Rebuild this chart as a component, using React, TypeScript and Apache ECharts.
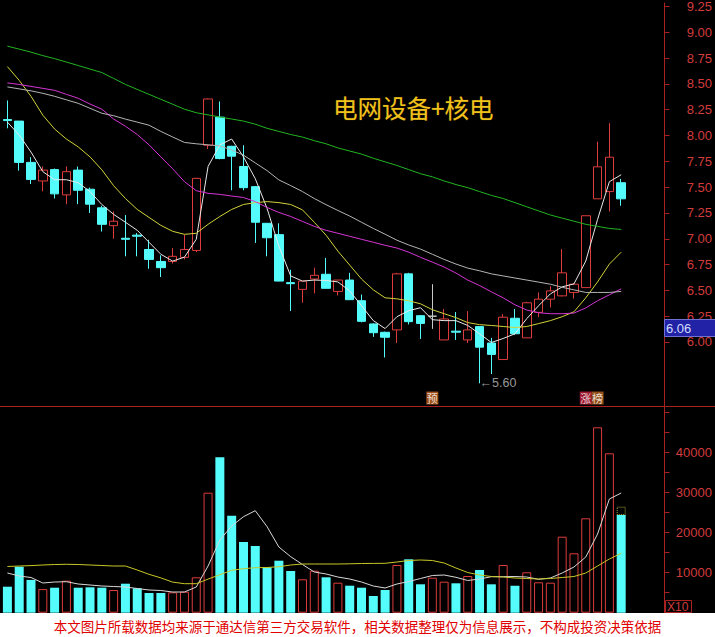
import React, { useEffect, useRef } from "react";
import * as echarts from "echarts";

// ---- data ----
const opens = [8.155, 8.14, 7.74, 7.56, 7.67, 7.425, 7.665, 7.48, 7.3, 7.127, 7.005, 7.035, 6.896, 6.78, 6.78, 6.82, 6.887, 7.906, 8.178, 7.896, 7.7, 7.505, 7.15, 7.04, 6.575, 6.51, 6.61, 6.656, 6.49, 6.6, 6.4, 6.175, 6.094, 6.117, 6.66, 6.255, 6.25, 6.02, 6.105, 6.02, 6.149, 5.99, 5.83, 6.23, 6.04, 6.287, 6.415, 6.447, 6.48, 6.527, 7.387, 7.457, 7.543];
const closes = [8.145, 7.74, 7.575, 7.665, 7.435, 7.65, 7.47, 7.335, 7.14, 7.17, 6.995, 7.025, 6.8, 6.72, 6.83, 6.896, 7.585, 8.354, 7.777, 7.8, 7.495, 7.16, 7.01, 6.59, 6.565, 6.59, 6.646, 6.52, 6.6, 6.41, 6.2, 6.09, 6.046, 6.66, 6.197, 6.18, 6.25, 6.223, 6.095, 6.117, 5.95, 5.88, 6.24, 6.08, 6.38, 6.415, 6.495, 6.67, 6.56, 7.223, 7.697, 7.79, 7.387];
const lows = [8.07, 7.66, 7.53, 7.46, 7.39, 7.335, 7.335, 7.25, 7.07, 7.0, 6.83, 6.83, 6.71, 6.63, 6.76, 6.8, 6.87, 7.87, 7.77, 7.47, 7.47, 6.96, 6.83, 6.59, 6.3, 6.38, 6.47, 6.52, 6.45, 6.41, 6.19, 6.05, 5.85, 5.99, 6.17, 6.03, 6.127, 6.02, 6.02, 5.99, 5.6, 5.69, 5.83, 6.07, 6.04, 6.24, 6.335, 6.44, 6.42, 6.527, 7.387, 7.265, 7.32];
const highs = [8.34, 8.14, 7.79, 7.7, 7.68, 7.7, 7.7, 7.495, 7.32, 7.265, 7.23, 7.056, 6.99, 6.84, 6.91, 7.04, 7.59, 8.36, 8.33, 7.9, 7.906, 7.51, 7.15, 7.15, 6.7, 6.59, 6.72, 6.815, 6.6, 6.67, 6.46, 6.18, 6.1, 6.67, 6.67, 6.26, 6.56, 6.32, 6.29, 6.3, 6.15, 6.04, 6.27, 6.32, 6.39, 6.48, 6.54, 6.9, 6.57, 7.223, 7.94, 8.12, 7.58];

const ma5 = [8.13, 8.005, 7.84, 7.65, 7.572, 7.572, 7.543, 7.457, 7.332, 7.236, 7.16, 7.082, 6.966, 6.85, 6.784, 6.822, 6.995, 7.7, 7.91, 7.966, 7.793, 7.582, 7.293, 6.928, 6.64, 6.59, 6.6, 6.596, 6.582, 6.495, 6.351, 6.207, 6.13, 6.245, 6.303, 6.332, 6.216, 6.207, 6.207, 6.16, 6.08, 5.995, 6.034, 6.08, 6.226, 6.351, 6.466, 6.534, 6.563, 6.784, 7.188, 7.553, 7.62];
const ma10 = [8.668, 8.534, 8.38, 8.197, 8.063, 7.966, 7.89, 7.793, 7.668, 7.514, 7.39, 7.284, 7.207, 7.13, 7.072, 7.043, 7.053, 7.14, 7.216, 7.284, 7.332, 7.35, 7.36, 7.35, 7.332, 7.28, 7.16, 7.034, 6.88, 6.745, 6.61, 6.505, 6.428, 6.418, 6.399, 6.37, 6.313, 6.274, 6.236, 6.188, 6.168, 6.16, 6.15, 6.14, 6.15, 6.178, 6.207, 6.245, 6.293, 6.428, 6.582, 6.755, 6.87];
const ma20 = [8.51, 8.495, 8.476, 8.457, 8.438, 8.399, 8.361, 8.305, 8.255, 8.16, 8.09, 8.01, 7.91, 7.793, 7.678, 7.553, 7.466, 7.44, 7.43, 7.414, 7.4, 7.36, 7.303, 7.255, 7.216, 7.168, 7.12, 7.082, 7.053, 7.024, 6.995, 6.966, 6.937, 6.91, 6.87, 6.82, 6.774, 6.726, 6.668, 6.6, 6.547, 6.486, 6.428, 6.36, 6.31, 6.284, 6.274, 6.274, 6.28, 6.33, 6.4, 6.457, 6.515];
const ma30 = [8.471, 8.452, 8.433, 8.409, 8.38, 8.346, 8.312, 8.264, 8.216, 8.192, 8.159, 8.13, 8.1, 8.04, 7.986, 7.933, 7.92, 7.91, 7.9, 7.86, 7.81, 7.735, 7.66, 7.57, 7.515, 7.457, 7.39, 7.33, 7.274, 7.22, 7.16, 7.1, 7.044, 6.986, 6.94, 6.9, 6.85, 6.8, 6.755, 6.716, 6.69, 6.66, 6.64, 6.62, 6.6, 6.58, 6.56, 6.53, 6.505, 6.48, 6.48, 6.48, 6.49];
const ma60 = [8.866, 8.837, 8.808, 8.774, 8.745, 8.712, 8.678, 8.644, 8.61, 8.553, 8.495, 8.447, 8.399, 8.351, 8.303, 8.255, 8.221, 8.2, 8.18, 8.16, 8.14, 8.11, 8.07, 8.04, 8.01, 7.985, 7.95, 7.92, 7.88, 7.85, 7.82, 7.78, 7.745, 7.71, 7.67, 7.63, 7.6, 7.56, 7.525, 7.495, 7.457, 7.42, 7.39, 7.35, 7.31, 7.27, 7.23, 7.2, 7.17, 7.14, 7.12, 7.1, 7.09];

const volumes = [6500, 11500, 8200, 5900, 6250, 8000, 6250, 6350, 6250, 5675, 7250, 6100, 4925, 4925, 5100, 5250, 8850, 30000, 38850, 24250, 17675, 16675, 11350, 13000, 10425, 8350, 10500, 8850, 7500, 6750, 6250, 4175, 5675, 11925, 13350, 7100, 8750, 7750, 7350, 9175, 10675, 7100, 11925, 6750, 10100, 7600, 7500, 19000, 14850, 23600, 46350, 39850, 24425];
const volMa5 = [9925, 9175, 8800, 7425, 7675, 7750, 7175, 6925, 6675, 6550, 6425, 6050, 5675, 5550, 5175, 5175, 6425, 11675, 18175, 21675, 24000, 25500, 21500, 16425, 14000, 12050, 10175, 9675, 8925, 8425, 7675, 6675, 6175, 7175, 7800, 8550, 9300, 9425, 8850, 8050, 8425, 9000, 9000, 9050, 8925, 8350, 8675, 9925, 11425, 13925, 19675, 28425, 29925];
const volMa10 = [11550, 11675, 11775, 11925, 12050, 12100, 12050, 11925, 11800, 11675, 11675, 10675, 9600, 8700, 7650, 7250, 7250, 8400, 9500, 10600, 11000, 11250, 11300, 11500, 11925, 12175, 12175, 12175, 12175, 12225, 12300, 12325, 12350, 12675, 13050, 13175, 13050, 12425, 11175, 10050, 9425, 9050, 8925, 8675, 8550, 8425, 8550, 8800, 9050, 9925, 11675, 13425, 14850];
const forecastVolume = 26500; // dotted estimate on the last day

const priceTicks = [6.0, 6.25, 6.5, 6.75, 7.0, 7.25, 7.5, 7.75, 8.0, 8.25, 8.5, 8.75, 9.0, 9.25];
const volumeLabels = [10000, 20000, 30000, 40000];
const volumeTicks = [5000, 10000, 15000, 20000, 25000, 30000, 35000, 40000, 45000, 50000];

const markerDays = [36, 49, 50];
const markerTexts = ["预", "涨", "榜"];
const lowDay = 40;
const lowValue = 5.6;
const title = "电网设备+核电";
const footer = "本文图片所载数据均来源于通达信第三方交易软件，相关数据整理仅为信息展示，不构成投资决策依据";
const slotCount = 56;
const categories = Array.from({ length: slotCount }, (_, i) => `D${i + 1}`);

// ---- styles ----
const RED = "#dc3c3c";
const CYAN = "#54fcfc";
const AXIS = "#a82222";
const LABEL = "#d23c3c";
const markerColors = ["#c8641e", "#c41e3a", "#b8641e"];

export default function App() {
  const ref = useRef<HTMLDivElement>(null);
  useEffect(() => {
    if (!ref.current) return;
    const chart = echarts.init(ref.current, null, { renderer: "svg" });

    const candles = opens.map((o, i) => {
      const item: any = { value: [o, closes[i], lows[i], highs[i]] };
      if (o === closes[i]) {
        item.itemStyle = { color: "#c8c8c8", color0: "#c8c8c8", borderColor: "#c8c8c8", borderColor0: "#c8c8c8", borderColorDoji: "#c8c8c8" };
      }
      return item;
    });
    const volBars = volumes.map((v, i) => {
      const up = closes[i] >= opens[i];
      return {
        value: v,
        itemStyle: up
          ? { color: "#000", borderColor: RED, borderWidth: 1 }
          : { color: CYAN, borderColor: CYAN, borderWidth: 0 },
      };
    });
    const last = volumes.length - 1;
    const forecast = volumes.map((v, i) => (i === last ? forecastVolume - v : null));

    const priceMin = 5.38;
    const priceMax = 9.284;
    const lowNoteLevel = priceMax - 398 / 104; // marker row at bottom of price panel

    const line = (name: string, data: number[], color: string, x = 0) => ({
      name,
      type: "line",
      xAxisIndex: x,
      yAxisIndex: x,
      data,
      symbol: "none",
      smooth: false,
      lineStyle: { color, width: 1 },
      z: 3,
    });

    const option: any = {
      animation: false,
      backgroundColor: "#000",
      grid: [
        { left: 1.5, right: 52.5, top: 0, height: 406 },
        { left: 1.5, right: 52.5, top: 406, height: 206.7 },
      ],
      xAxis: [
        { type: "category", data: categories, gridIndex: 0, show: false },
        { type: "category", data: categories, gridIndex: 1, show: false },
      ],
      yAxis: [
        {
          type: "value",
          gridIndex: 0,
          position: "right",
          offset: 2,
          min: priceMin,
          max: priceMax,
          splitLine: { show: false },
          axisLine: { show: true, lineStyle: { color: AXIS, width: 1 } },
          axisTick: { show: true, customValues: priceTicks, length: 5, lineStyle: { color: AXIS } },
          axisLabel: {
            customValues: priceTicks,
            formatter: (v: number) => v.toFixed(2),
            color: LABEL,
            fontSize: 13,
            fontFamily: "Liberation Sans",
            align: "right",
            margin: 47.5,
          },
        },
        {
          type: "value",
          gridIndex: 1,
          position: "right",
          offset: 2,
          min: 0,
          max: 51675,
          splitLine: { show: false },
          axisLine: { show: true, lineStyle: { color: AXIS, width: 1 } },
          axisTick: { show: true, customValues: volumeTicks, length: 5, lineStyle: { color: AXIS } },
          axisLabel: {
            customValues: volumeLabels,
            formatter: (v: number) => String(v),
            color: LABEL,
            fontSize: 13,
            fontFamily: "Liberation Sans",
            align: "right",
            margin: 47.5,
          },
        },
      ],
      series: [
        {
          name: "K",
          type: "candlestick",
          xAxisIndex: 0,
          yAxisIndex: 0,
          data: candles,
          barWidth: 9,
          itemStyle: {
            color: "#000",
            color0: CYAN,
            borderColor: RED,
            borderColor0: CYAN,
            borderColorDoji: "#c8c8c8",
            borderWidth: 1,
          },
          z: 2,
        },
        line("MA5", ma5, "#e8e8e8"),
        line("MA10", ma10, "#d2d23a"),
        line("MA20", ma20, "#d535d5"),
        line("MA30", ma30, "#b4b4b4"),
        line("MA60", ma60, "#22b422"),
        {
          name: "markers",
          type: "scatter",
          xAxisIndex: 0,
          yAxisIndex: 0,
          symbol: "rect",
          symbolSize: [12, 13],
          data: markerDays.map((d, k) => ({
            value: [d, lowNoteLevel],
            itemStyle: { color: markerColors[k] },
            label: { formatter: markerTexts[k] },
          })),
          label: {
            show: true,
            position: "inside",
            color: "#fff",
            fontSize: 11,
            fontFamily: "Noto Sans CJK SC",
          },
          z: 4,
        },
        {
          name: "low",
          type: "scatter",
          xAxisIndex: 0,
          yAxisIndex: 0,
          symbolSize: 0,
          data: [[lowDay, lowValue]],
          label: {
            show: true,
            position: "right",
            distance: 0,
            formatter: "←" + lowValue.toFixed(2),
            color: "#c0c0c0",
            fontSize: 12.5,
            fontFamily: "Liberation Sans, DejaVu Sans",
          },
          z: 4,
        },
        {
          name: "VOL",
          type: "bar",
          xAxisIndex: 1,
          yAxisIndex: 1,
          stack: "v",
          barWidth: 9,
          data: volBars,
          z: 2,
        },
        {
          name: "VOLF",
          type: "bar",
          xAxisIndex: 1,
          yAxisIndex: 1,
          stack: "v",
          barWidth: 9,
          data: forecast,
          itemStyle: { color: "rgba(0,0,0,0)", borderColor: "#a8a832", borderWidth: 1, borderType: "dotted" },
          z: 2,
        },
        line("VMA5", volMa5, "#d8d8d8", 1),
        line("VMA10", volMa10, "#c8c828", 1),
      ],
      graphic: [
        {
          type: "line",
          shape: { x1: 0, y1: 406.5, x2: 715, y2: 406.5 },
          style: { stroke: AXIS, lineWidth: 1 },
          z: 10,
        },
        {
          type: "text",
          x: 333,
          y: 107,
          style: {
            text: title,
            fill: "#f0c21c",
            stroke: "#4a3000",
            lineWidth: 0.6,
            font: 'normal 24.5px "Noto Sans CJK SC"',
            textAlign: "left",
            textVerticalAlign: "middle",
          },
          z: 10,
        },
        {
          type: "rect",
          shape: { x: 664.5, y: 319.5, width: 51, height: 17 },
          style: { fill: "#2222a6", stroke: "#7070d0", lineWidth: 1 },
          z: 10,
        },
        {
          type: "text",
          x: 666,
          y: 328,
          style: {
            text: "6.06",
            fill: "#d0dcff",
            font: 'normal 13px "Liberation Sans"',
            textAlign: "left",
            textVerticalAlign: "middle",
          },
          z: 11,
        },
        {
          type: "rect",
          shape: { x: 665.5, y: 600.5, width: 26, height: 12 },
          style: { fill: "#000", stroke: AXIS, lineWidth: 1 },
          z: 10,
        },
        {
          type: "text",
          x: 667,
          y: 607,
          style: {
            text: "X10",
            fill: LABEL,
            font: 'normal 12px "Liberation Sans"',
            textAlign: "left",
            textVerticalAlign: "middle",
          },
          z: 11,
        },
        {
          type: "rect",
          shape: { x: 0, y: 613, width: 715, height: 24 },
          style: { fill: "#ffffff" },
          z: 12,
        },
        {
          type: "text",
          x: 357.5,
          y: 626,
          style: {
            text: footer,
            fill: "#e00000",
            font: 'normal 13.5px "Noto Sans CJK SC"',
            textAlign: "center",
            textVerticalAlign: "middle",
          },
          z: 13,
        },
      ],
    };

    chart.setOption(option);
    return () => chart.dispose();
  }, []);

  return (
    <div
      ref={ref}
      style={{ position: "fixed", left: 0, top: 0, width: 715, height: 637 }}
    />
  );
}
